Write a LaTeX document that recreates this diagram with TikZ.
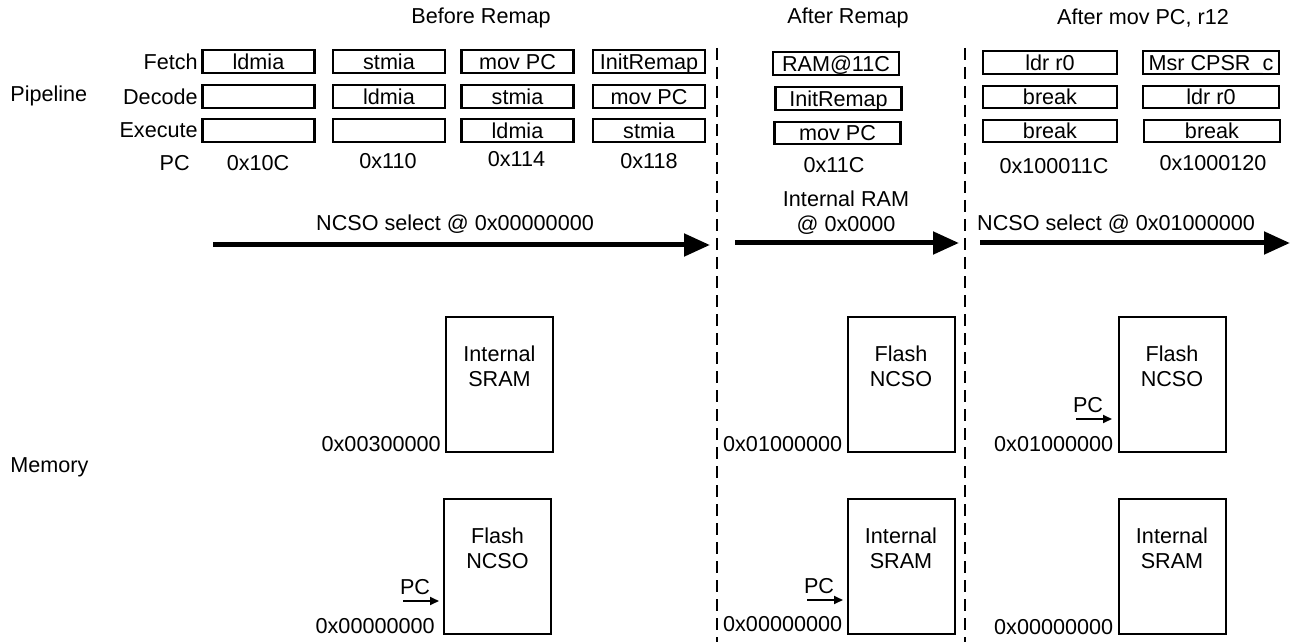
\documentclass[tikz,border=0pt]{standalone}
\usepackage{fontspec}
\setmainfont{Liberation Sans}
\usetikzlibrary{arrows.meta}
\newcommand\fsz{\fontsize{10.8}{12.5}\selectfont}
\begin{document}
\begin{tikzpicture}[x=0.5pt,y=-0.5pt,
  lbl/.style={font=\fsz, inner sep=0pt},
  pbox/.style={draw, line width=1.1pt, minimum width=56pt, minimum height=11.3pt, inner sep=0pt, font=\fsz, text height=7.8pt, text depth=0pt},
  rbox/.style={pbox, minimum width=63pt},
  mbox/.style={draw, line width=1pt, minimum width=53.5pt, minimum height=67.5pt, inner sep=0pt},
  mtext/.style={lbl, align=center},
  sepline/.style={line width=1pt, dash pattern=on 6pt off 3.5pt},
  bigarrow/.style={line width=2.5pt, -{Triangle[length=13pt,width=11pt]}},
  pcarrow/.style={line width=0.9pt, -{Triangle[length=4.5pt,width=4pt]}},
  addr/.style={lbl, anchor=base east}]
\useasboundingbox (0,0) rectangle (1292,642);

% titles
\node[lbl] (t1) at (481,18) {Before Remap};
\node[lbl] (t2) at (848,18) {After Remap};
\node[lbl] (t3) at (1143,18) {After mov PC, r12};

% side labels
\node[lbl, anchor=west] (pipe) at (10,96) {Pipeline};
\node[lbl, anchor=west] (mem) at (10,467) {Memory};
\node[lbl, anchor=east] (lf) at (198,61.5) {Fetch};
\node[lbl, anchor=east] (ld) at (198,96.5) {Decode};
\node[lbl, anchor=east] (le) at (198,130.5) {Execute};
\node[lbl, anchor=east] (lp) at (190,163) {PC};

% pipeline, before remap
\node[pbox] (f1) at (258.5,61.5) {ldmia};
\node[pbox] (d1) at (258.5,96.5) {};
\node[pbox] (e1) at (258.5,130.5) {};
\node[lbl] (p1) at (258,163) {0x10C};
\node[pbox] (f2) at (389,61.5) {stmia};
\node[pbox] (d2) at (389,96.5) {ldmia};
\node[pbox] (e2) at (389,130.5) {};
\node[lbl] (p2) at (388,161) {0x110};
\node[pbox] (f3) at (517.5,61.5) {mov PC};
\node[pbox] (d3) at (517.5,96.5) {stmia};
\node[pbox] (e3) at (517.5,130.5) {ldmia};
\node[lbl] (p3) at (516.5,159) {0x114};
\node[pbox] (f4) at (649,61.5) {InitRemap};
\node[pbox] (d4) at (649,96.5) {mov PC};
\node[pbox] (e4) at (649,130.5) {stmia};
\node[lbl] (p4) at (649,161) {0x118};

% pipeline, after remap
\node[rbox] (f5) at (836,63.5) {RAM@11C};
\node[rbox] (d5) at (838.5,98.5) {InitRemap};
\node[rbox] (e5) at (837.5,133) {mov PC};
\node[lbl] (p5) at (834,165) {0x11C};

% pipeline, after mov PC
\node[rbox, minimum width=67pt] (f6) at (1050,62.5) {ldr r0};
\node[rbox, minimum width=67pt] (d6) at (1050,97) {break};
\node[rbox, minimum width=67pt] (e6) at (1050,131) {break};
\node[lbl] (p6) at (1054,166) {0x100011C};
\node[rbox, minimum width=68pt] (f7) at (1211,62.5) {Msr CPSR\_c};
\node[rbox, minimum width=68pt] (d7) at (1211,97) {ldr r0};
\node[rbox, minimum width=68pt] (e7) at (1212,131) {break};
\node[lbl] (p7) at (1213,163) {0x1000120};

% separators
\coordinate (s1a) at (717,48); \coordinate (s1b) at (717,642);
\coordinate (s2a) at (965,48); \coordinate (s2b) at (965,642);
\draw[sepline] (s1a) -- (s1b);
\draw[sepline] (s2a) -- (s2b);

% big arrows
\coordinate (a1s) at (213,245); \coordinate (a1e) at (710,245);
\coordinate (a2s) at (735,243); \coordinate (a2e) at (959,243);
\coordinate (a3s) at (980,243); \coordinate (a3e) at (1290,243);
\draw[bigarrow] (a1s) -- (a1e);
\draw[bigarrow] (a2s) -- (a2e);
\draw[bigarrow] (a3s) -- (a3e);
\node[lbl] (al1) at (455,224) {NCSO select @ 0x00000000};
\node[lbl, align=center] (al2) at (846,213) {Internal RAM\\@ 0x0000};
\node[lbl] (al3) at (1116,224) {NCSO select @ 0x01000000};

% memory, before remap
\node[mbox] (m1u) at (499.5,384.5) {};
\node[mtext] at ([yshift=-25.3pt]m1u.north) {Internal\\SRAM};
\node[addr] (a1u) at ([xshift=-2pt,yshift=1pt]m1u.south west) {0x00300000};
\node[mbox] (m1l) at (497.5,566.5) {};
\node[mtext] at ([yshift=-25pt]m1l.north) {Flash\\NCSO};
\node[addr] (a1l) at ([xshift=-4pt,yshift=1pt]m1l.south west) {0x00000000};
\node[lbl] (pc1) at (415,587) {PC};
\coordinate (pc1s) at (403,601); \coordinate (pc1e) at (439,601);
\draw[pcarrow] (pc1s) -- (pc1e);

% memory, after remap
\node[mbox] (m2u) at (901,384.5) {};
\node[mtext] at ([yshift=-25.3pt]m2u.north) {Flash\\NCSO};
\node[addr] (a2u) at ([xshift=-2pt,yshift=1pt]m2u.south west) {0x01000000};
\node[mbox] (m2l) at (901,566.5) {};
\node[mtext] at ([yshift=-25pt]m2l.north) {Internal\\SRAM};
\node[addr] (a2l) at ([xshift=-2pt,yshift=2pt]m2l.south west) {0x00000000};
\node[lbl] (pc2) at (819,586) {PC};
\coordinate (pc2s) at (807,600); \coordinate (pc2e) at (843,600);
\draw[pcarrow] (pc2s) -- (pc2e);

% memory, after mov PC
\node[mbox] (m3u) at (1172,384.5) {};
\node[mtext] at ([yshift=-25.3pt]m3u.north) {Flash\\NCSO};
\node[addr] (a3u) at ([xshift=-2pt,yshift=1pt]m3u.south west) {0x01000000};
\node[mbox] (m3l) at (1172,566.5) {};
\node[mtext] at ([yshift=-25pt]m3l.north) {Internal\\SRAM};
\node[addr] (a3l) at ([xshift=-2pt,yshift=0.5pt]m3l.south west) {0x00000000};
\node[lbl] (pc3) at (1088,405) {PC};
\coordinate (pc3s) at (1076,419); \coordinate (pc3e) at (1112,419);
\draw[pcarrow] (pc3s) -- (pc3e);
\end{tikzpicture}
\end{document}
